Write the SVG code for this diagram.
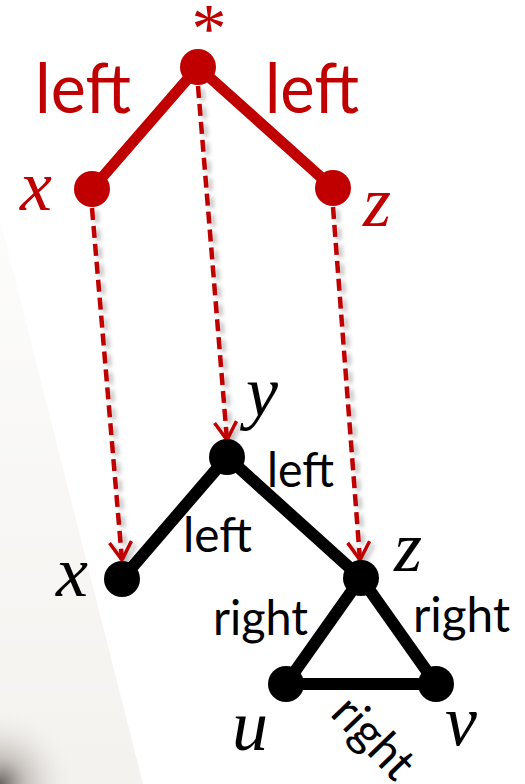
<svg xmlns="http://www.w3.org/2000/svg" width="525" height="784" viewBox="0 0 525 784">
<style>
.red{fill:#C00000}
.blk{fill:#000}
.redEdge{stroke:#C00000;stroke-width:11;stroke-linecap:round;fill:none}
.blkEdge{stroke:#000;stroke-width:12;stroke-linecap:round;fill:none}
.dash{stroke:#C00000;stroke-width:4.5;stroke-dasharray:12 6;fill:none}
.lbl{font-family:Lato,"Liberation Sans",sans-serif}
.var{font-family:"Liberation Serif","DejaVu Serif",serif;font-style:italic;font-size:72px;text-anchor:middle}
</style>
<defs>
<linearGradient id="bgG" x1="0" y1="0" x2="0" y2="1">
<stop offset="0" stop-color="#fcfcfb"/>
<stop offset="1" stop-color="#f4f2ef"/>
</linearGradient>
<radialGradient id="corner" cx="0" cy="784" r="75" gradientUnits="userSpaceOnUse">
<stop offset="0" stop-color="#6a6460"/>
<stop offset="0.35" stop-color="#b3aea9" stop-opacity="0.7"/>
<stop offset="1" stop-color="#f4f2ef" stop-opacity="0"/>
</radialGradient>
<filter id="shadow" x="-50%" y="-10%" width="200%" height="120%">
<feDropShadow dx="4" dy="3" stdDeviation="2" flood-color="#000" flood-opacity="0.25"/>
</filter>
<marker id="arr" markerWidth="26" markerHeight="26" refX="21" refY="13" orient="auto" markerUnits="userSpaceOnUse" viewBox="0 0 26 26">
<path d="M3,2 L21,13 L3,24" fill="none" stroke="#C00000" stroke-width="3.5"/>
</marker>
</defs>
<rect width="525" height="784" fill="#fff"/>
<polygon points="0,220 143,784 0,784" fill="url(#bgG)"/>
<polygon points="0,220 143,784 0,784" fill="url(#corner)"/>

<g id="connectors">
<line class="redEdge" x1="198" y1="67" x2="92" y2="189"/>
<line class="redEdge" x1="198" y1="67" x2="333" y2="188"/>
<line class="blkEdge" x1="227" y1="457" x2="122" y2="579"/>
<line class="blkEdge" x1="227" y1="457" x2="361" y2="578"/>
<line class="blkEdge" x1="361" y1="578" x2="286" y2="684"/>
<line class="blkEdge" x1="361" y1="578" x2="436" y2="684"/>
<line class="blkEdge" x1="286" y1="684" x2="436" y2="684"/>
<g filter="url(#shadow)">
<path class="dash" d="M198,86 L227,440" marker-end="url(#arr)"/>
<path class="dash" d="M92,208 L122,560" marker-end="url(#arr)"/>
<path class="dash" d="M333,207 L360,560" marker-end="url(#arr)"/>
</g>
<text class="lbl red" x="35" y="113" font-size="70" textLength="96" lengthAdjust="spacingAndGlyphs">left</text>
<text class="lbl red" x="265" y="113" font-size="70" textLength="94" lengthAdjust="spacingAndGlyphs">left</text>
<text class="lbl blk" x="267" y="487" font-size="48" textLength="67" lengthAdjust="spacingAndGlyphs">left</text>
<text class="lbl blk" x="183" y="552" font-size="48" textLength="69" lengthAdjust="spacingAndGlyphs">left</text>
<text class="lbl blk" x="213" y="635" font-size="48" textLength="95" lengthAdjust="spacingAndGlyphs">right</text>
<text class="lbl blk" x="413" y="632" font-size="48" textLength="97" lengthAdjust="spacingAndGlyphs">right</text>
<text class="lbl blk" transform="translate(362,749) rotate(46)" x="0" y="0" font-size="48" text-anchor="middle" textLength="95" lengthAdjust="spacingAndGlyphs">right</text>
</g>

<g id="red-root"><circle class="red" cx="198" cy="67" r="18"/><text class="red" x="209" y="52" font-family="Liberation Serif,serif" font-size="70" text-anchor="middle">*</text></g>
<g id="red-x"><circle class="red" cx="92" cy="189" r="18"/><text class="var red" x="36" y="210">x</text></g>
<g id="red-z"><circle class="red" cx="333" cy="188" r="18"/><text class="var red" x="377" y="226">z</text></g>

<g id="y"><circle class="blk" cx="227" cy="457" r="18"/><text class="var blk" x="262" y="416">y</text></g>
<g id="x"><circle class="blk" cx="122" cy="579" r="18"/><text class="var blk" x="72" y="596">x</text></g>
<g id="z"><circle class="blk" cx="361" cy="578" r="18"/><text class="var blk" x="408" y="571">z</text></g>
<g id="u"><circle class="blk" cx="286" cy="684" r="18"/><text class="var blk" x="250" y="750">u</text></g>
<g id="v"><circle class="blk" cx="436" cy="684" r="18"/><text class="var blk" x="461" y="745">v</text></g>
</svg>
